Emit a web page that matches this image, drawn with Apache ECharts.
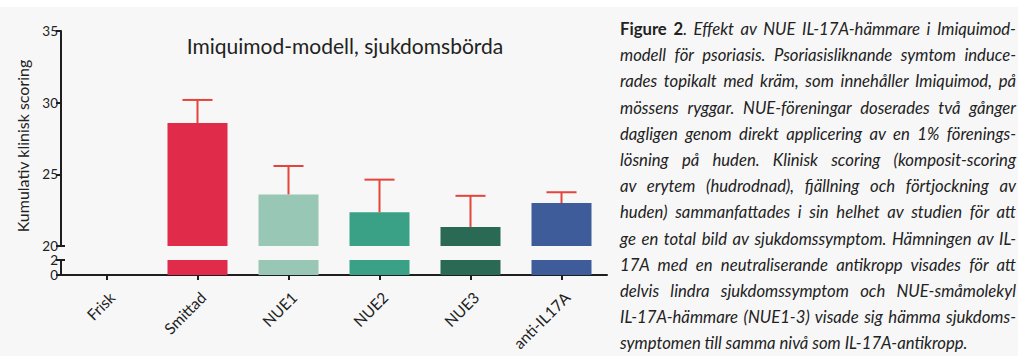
<!DOCTYPE html>
<html>
<head>
<meta charset="utf-8">
<script src="https://cdn.jsdelivr.net/npm/echarts@6/dist/echarts.min.js"></script>
<style>
  html, body { margin: 0; padding: 0; background: #ffffff; width: 1023px; height: 356px; overflow: hidden; }
  #bg { position: absolute; left: 0; top: 7px; width: 1018px; height: 349px; background: #f7f7f7; }
  #chart { position: absolute; left: 0; top: 0; width: 1023px; height: 356px; }
  #caption { position: absolute; left: 620px; top: 16px; width: 396px; font-family: Lato, sans-serif; font-style: italic; font-size: 16.7px; line-height: 26.2px; color: #222; }
  #caption div { white-space: nowrap; text-align: justify; text-align-last: justify; }
  #caption div.last { text-align: left; text-align-last: left; }
  #caption b { font-style: normal; font-weight: 700; }
</style>
</head>
<body>
<div id="bg"></div>
<div id="chart"></div>
<div id="caption"></div>
<script>
// ---- data ----
const categories = ['Frisk', 'Smittad', 'NUE1', 'NUE2', 'NUE3', 'anti-IL17A'];
const means = [0, 28.58, 23.6, 22.35, 21.33, 23.0];
const errors = [0, 1.61, 1.98, 2.28, 2.17, 0.75];
const barColors = ['#e02b4b', '#e02b4b', '#98c8b5', '#3aa186', '#2a6a55', '#3e5c99'];
const upperTicks = [20, 25, 30, 35];
const lowerTicks = [0, 2];
const titleText = 'Imiquimod-modell, sjukdomsbörda';
const yAxisTitle = 'Kumulativ klinisk scoring';
const captionLines = [
  'Effekt av NUE IL-17A-hämmare i Imiquimod-',
  'modell för psoriasis. Psoriasisliknande symtom induce-',
  'rades topikalt med kräm, som innehåller Imiquimod, på',
  'mössens ryggar. NUE-föreningar doserades två gånger',
  'dagligen genom direkt applicering av en 1% förenings-',
  'lösning på huden. Klinisk scoring (komposit-scoring',
  'av erytem (hudrodnad), fjällning och förtjockning av',
  'huden) sammanfattades i sin helhet av studien för att',
  'ge en total bild av sjukdomssymptom. Hämningen av IL-',
  '17A med en neutraliserande antikropp visades för att',
  'delvis lindra sjukdomssymptom och NUE-småmolekyl',
  'IL-17A-hämmare (NUE1-3) visade sig hämma sjukdoms-',
  'symptomen till samma nivå som IL-17A-antikropp.'
];
const captionLead = 'Figure 2';

// ---- caption ----
const cap = document.getElementById('caption');
captionLines.forEach((line, i) => {
  const d = document.createElement('div');
  if (i === captionLines.length - 1) d.className = 'last';
  if (i === 0) {
    const b = document.createElement('b');
    b.textContent = captionLead;
    d.appendChild(b);
    d.appendChild(document.createTextNode('. ' + line));
  } else {
    d.textContent = line;
  }
  cap.appendChild(d);
});

// ---- chart ----
const FONT = 'Lato, sans-serif';
const AX = '#1e1e1e';
const chart = echarts.init(document.getElementById('chart'), null, { renderer: 'svg' });

const errData = categories.map((c, i) => [i, means[i], means[i] + errors[i]]);

const yCommon = {
  type: 'value',
  axisLine: { show: true, lineStyle: { color: AX, width: 2 } },
  axisTick: { show: true, length: 5, lineStyle: { color: AX, width: 2 } },
  axisLabel: { color: '#222', fontFamily: FONT, fontSize: 13.5, margin: 3 },
  splitLine: { show: false }
};

const yTitleGraphic = {
  type: 'text', x: 22, y: 146, rotation: Math.PI / 2,
  style: { text: yAxisTitle, fontFamily: FONT, fontSize: 16, fill: '#222', align: 'center', verticalAlign: 'middle' }
};

chart.setOption({
  animation: false,
  backgroundColor: 'transparent',
  title: {
    text: titleText,
    left: 340, top: 30, textAlign: 'center',
    textStyle: { fontFamily: FONT, fontSize: 21, fontWeight: 'normal', color: '#222' }
  },
  grid: [
    { left: 61, right: 416, top: 31, height: 215 },
    { left: 61, right: 416, top: 260, height: 15 }
  ],
  xAxis: [
    { type: 'category', data: categories, gridIndex: 0, show: false },
    {
      type: 'category', data: categories, gridIndex: 1,
      axisLine: { show: true, lineStyle: { color: AX, width: 2 } },
      axisTick: { show: true, alignWithLabel: true, length: 5, lineStyle: { color: AX, width: 2 } },
      axisLabel: { rotate: 45, color: '#222', fontFamily: FONT, fontSize: 15.5, margin: 14, verticalAlign: 'top' }
    }
  ],
  yAxis: [
    Object.assign({}, yCommon, { gridIndex: 0, min: upperTicks[0], max: upperTicks[upperTicks.length - 1], interval: upperTicks[1] - upperTicks[0] }),
    Object.assign({}, yCommon, { gridIndex: 1, min: lowerTicks[0], max: lowerTicks[lowerTicks.length - 1], interval: lowerTicks[1] - lowerTicks[0] })
  ],
  series: [
    {
      type: 'bar', xAxisIndex: 0, yAxisIndex: 0, data: means, barWidth: 60, clip: true,
      itemStyle: { color: p => barColors[p.dataIndex] }
    },
    {
      type: 'bar', xAxisIndex: 1, yAxisIndex: 1, data: means, barWidth: 60, clip: true,
      itemStyle: { color: p => barColors[p.dataIndex] }
    },
    {
      type: 'custom', xAxisIndex: 0, yAxisIndex: 0, data: errData, z: 5,
      renderItem: function (params, api) {
        if (api.value(2) <= api.value(1)) return null;
        const base = api.coord([api.value(0), api.value(1)]);
        const top = api.coord([api.value(0), api.value(2)]);
        const half = api.size([1, 0])[0] * 0.165;
        const style = { stroke: '#e4443a', lineWidth: 2 };
        return {
          type: 'group',
          children: [
            { type: 'line', shape: { x1: base[0], y1: base[1], x2: top[0], y2: top[1] }, style: style },
            { type: 'line', shape: { x1: top[0] - half, y1: top[1], x2: top[0] + half, y2: top[1] }, style: style }
          ]
        };
      }
    }
  ],
  graphic: [yTitleGraphic]
});

// break marks: short extensions of the ticks at the break ends, placed via the axes' scales
const y20 = chart.convertToPixel({ yAxisIndex: 0 }, upperTicks[0]);
const y2 = chart.convertToPixel({ yAxisIndex: 1 }, lowerTicks[lowerTicks.length - 1]);
chart.setOption({
  graphic: [
    yTitleGraphic,
    { type: 'line', shape: { x1: 61, y1: y20, x2: 65, y2: y20 }, style: { stroke: AX, lineWidth: 2 } },
    { type: 'line', shape: { x1: 61, y1: y2, x2: 65, y2: y2 }, style: { stroke: AX, lineWidth: 2 } }
  ]
});
</script>
</body>
</html>
